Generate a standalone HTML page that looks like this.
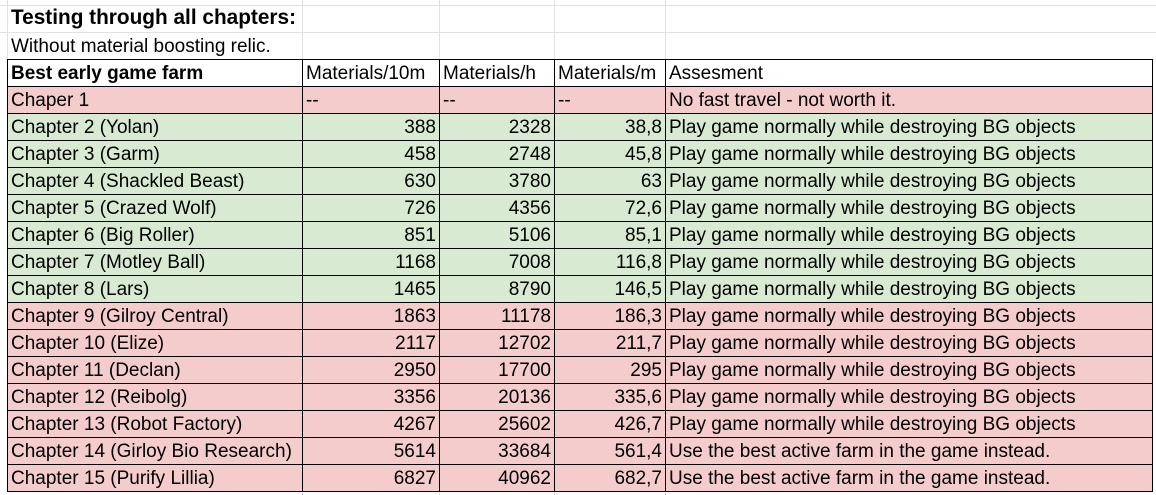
<!DOCTYPE html>
<html><head><style>
body{margin:0;width:1156px;height:495px;background:#fff;overflow:hidden;font-family:"Liberation Sans",Arial,sans-serif;position:relative}
.g{position:absolute;background:#e2e2e2}
table{position:absolute;left:7px;top:59px;border-collapse:collapse;font-size:19px;color:#000}
td{border:1px solid #000;height:24px;padding:2px 3px 0 3px;white-space:nowrap;line-height:24px;overflow:hidden}
tr.r td{background:#f4cccc}
tr.gr td{background:#d9ead3}
td.n{text-align:right}
.t{position:absolute;left:11px;white-space:nowrap}
</style></head><body>
<div class="g" style="left:0;top:5px;width:1156px;height:1px"></div>
<div class="g" style="left:0;top:32px;width:1156px;height:1px"></div>
<div class="g" style="left:7px;top:0;width:1px;height:60px"></div>
<div class="g" style="left:302px;top:0;width:1px;height:60px"></div>
<div class="g" style="left:439px;top:0;width:1px;height:60px"></div>
<div class="g" style="left:554px;top:0;width:1px;height:60px"></div>
<div class="g" style="left:665px;top:0;width:1px;height:60px"></div>
<div class="g" style="left:302px;top:492px;width:1px;height:3px"></div>
<div class="g" style="left:439px;top:492px;width:1px;height:3px"></div>
<div class="g" style="left:554px;top:492px;width:1px;height:3px"></div>
<div class="g" style="left:665px;top:492px;width:1px;height:3px"></div>
<div class="t" style="top:6px;font-weight:bold;font-size:20.8px">Testing through all chapters:</div>
<div class="t" style="top:36px;font-size:19px">Without material boosting relic.</div>
<table>
<colgroup><col style="width:295px"><col style="width:137px"><col style="width:115px"><col style="width:111px"><col style="width:487px"></colgroup>
<tr><td style="font-weight:bold">Best early game farm</td><td>Materials/10m</td><td>Materials/h</td><td>Materials/m</td><td>Assesment</td></tr>
<tr class="r"><td>Chaper 1</td><td>--</td><td>--</td><td>--</td><td>No fast travel - not worth it.</td></tr>
<tr class="gr"><td>Chapter 2 (Yolan)</td><td class="n">388</td><td class="n">2328</td><td class="n">38,8</td><td>Play game normally while destroying BG objects</td></tr>
<tr class="gr"><td>Chapter 3 (Garm)</td><td class="n">458</td><td class="n">2748</td><td class="n">45,8</td><td>Play game normally while destroying BG objects</td></tr>
<tr class="gr"><td>Chapter 4 (Shackled Beast)</td><td class="n">630</td><td class="n">3780</td><td class="n">63</td><td>Play game normally while destroying BG objects</td></tr>
<tr class="gr"><td>Chapter 5 (Crazed Wolf)</td><td class="n">726</td><td class="n">4356</td><td class="n">72,6</td><td>Play game normally while destroying BG objects</td></tr>
<tr class="gr"><td>Chapter 6 (Big Roller)</td><td class="n">851</td><td class="n">5106</td><td class="n">85,1</td><td>Play game normally while destroying BG objects</td></tr>
<tr class="gr"><td>Chapter 7 (Motley Ball)</td><td class="n">1168</td><td class="n">7008</td><td class="n">116,8</td><td>Play game normally while destroying BG objects</td></tr>
<tr class="gr"><td>Chapter 8 (Lars)</td><td class="n">1465</td><td class="n">8790</td><td class="n">146,5</td><td>Play game normally while destroying BG objects</td></tr>
<tr class="r"><td>Chapter 9 (Gilroy Central)</td><td class="n">1863</td><td class="n">11178</td><td class="n">186,3</td><td>Play game normally while destroying BG objects</td></tr>
<tr class="r"><td>Chapter 10 (Elize)</td><td class="n">2117</td><td class="n">12702</td><td class="n">211,7</td><td>Play game normally while destroying BG objects</td></tr>
<tr class="r"><td>Chapter 11 (Declan)</td><td class="n">2950</td><td class="n">17700</td><td class="n">295</td><td>Play game normally while destroying BG objects</td></tr>
<tr class="r"><td>Chapter 12 (Reibolg)</td><td class="n">3356</td><td class="n">20136</td><td class="n">335,6</td><td>Play game normally while destroying BG objects</td></tr>
<tr class="r"><td>Chapter 13 (Robot Factory)</td><td class="n">4267</td><td class="n">25602</td><td class="n">426,7</td><td>Play game normally while destroying BG objects</td></tr>
<tr class="r"><td>Chapter 14 (Girloy Bio Research)</td><td class="n">5614</td><td class="n">33684</td><td class="n">561,4</td><td>Use the best active farm in the game instead.</td></tr>
<tr class="r"><td>Chapter 15 (Purify Lillia)</td><td class="n">6827</td><td class="n">40962</td><td class="n">682,7</td><td>Use the best active farm in the game instead.</td></tr>
</table>
</body></html>
